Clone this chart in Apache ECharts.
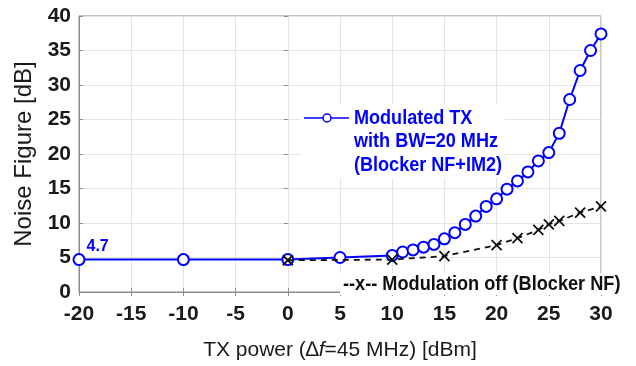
<!DOCTYPE html>
<html lang="en">
<head>
	<meta charset="UTF-8">
	<title>Noise Figure vs TX power</title>
	<style>
		html, body { margin: 0; padding: 0; background: #fff; }
	</style>
</head>
<body>
	<div id="main" style="width: 636px;height: 366px"></div>
	<script src="https://cdn.jsdelivr.net/npm/echarts@6/dist/echarts.min.js"></script>
	<script>
		// TX power [dBm] for the modulated TX curve
		var txPower = [-20, -10, 0, 5, 10, 11, 12, 13, 14, 15, 16, 17, 18, 19, 20,
			21, 22, 23, 24, 25, 26, 27, 28, 29, 30];
		// Noise figure [dB], modulated TX (Blocker NF+IM2)
		var nfModulated = [4.7, 4.7, 4.7, 5.0, 5.3, 5.8, 6.1, 6.5, 6.9, 7.7, 8.6, 9.8, 11.0, 12.4, 13.5,
			14.9, 16.1, 17.4, 19.0, 20.2, 23.0, 27.9, 32.1, 35.0, 37.4];

		// modulation off (Blocker NF)
		var txPowerOff = [0, 10, 15, 20, 22, 24, 25, 26, 28, 30];
		var nfOff = [4.6, 4.7, 5.2, 6.8, 7.8, 9.0, 9.8, 10.3, 11.5, 12.4];

		var xTicks = [-20, 30, 5];
		var yTicks = [0, 40, 5];

		function pairs(xs, ys) {
			return xs.map(function (x, i) { return [x, ys[i]]; });
		}

		var sans = '"Liberation Sans", Arial, sans-serif';

		var blueData = pairs(txPower, nfModulated);
		//第一个点显示数值
		blueData[0] = {
			value: blueData[0],
			label: {
				show: true,
				formatter: '4.7',
				position: [14, -6],
				align: 'left',
				verticalAlign: 'middle',
				color: '#0000ff',
				fontFamily: sans,
				fontWeight: 'bold',
				fontSize: 16
			}
		};

		var myChart = echarts.init(document.getElementById('main'));
		var option = {
			animation: false,
			grid: {
				left: 79,
				right: 35,
				top: 16,
				bottom: 70,
				show: true,
				borderColor: '#8c8c8c',
				borderWidth: 1
			},
			xAxis: [{
				type: 'value',
				min: xTicks[0],
				max: xTicks[1],
				interval: xTicks[2],
				name: 'TX power ({d|∆}{f|f}=45 MHz) [dBm]',
				nameLocation: 'middle',
				nameGap: 48,
				nameTextStyle: {
					fontFamily: sans,
					fontSize: 21,
					color: '#1a1a1a',
					rich: {
						d: { fontFamily: sans, fontSize: 21, color: '#1a1a1a' },
						f: { fontFamily: sans, fontSize: 21, fontStyle: 'italic', color: '#1a1a1a' }
					}
				},
				axisLine: { show: true, onZero: false, lineStyle: { color: '#8c8c8c' } },
				axisTick: { show: true, inside: true, length: 4, lineStyle: { color: '#8c8c8c' } },
				axisLabel: {
					margin: 12,
					color: '#1a1a1a',
					fontFamily: sans,
					fontWeight: 'bold',
					fontSize: 21
				},
				splitLine: { show: true, lineStyle: { color: '#e3e3e3' } }
			}, {
				type: 'value',
				position: 'top',
				min: xTicks[0],
				max: xTicks[1],
				interval: xTicks[2],
				axisLine: { show: false },
				axisTick: { show: true, inside: true, length: 4, lineStyle: { color: '#8c8c8c' } },
				axisLabel: { show: false },
				splitLine: { show: false }
			}],
			yAxis: [{
				type: 'value',
				min: yTicks[0],
				max: yTicks[1],
				interval: yTicks[2],
				name: 'Noise Figure [dB]',
				nameLocation: 'middle',
				nameGap: 40,
				nameTextStyle: {
					fontFamily: sans,
					fontSize: 24,
					color: '#1a1a1a'
				},
				axisLine: { show: true, onZero: false, lineStyle: { color: '#8c8c8c' } },
				axisTick: { show: true, inside: true, length: 4, lineStyle: { color: '#8c8c8c' } },
				axisLabel: {
					margin: 8,
					color: '#1a1a1a',
					fontFamily: sans,
					fontWeight: 'bold',
					fontSize: 21
				},
				splitLine: { show: true, lineStyle: { color: '#e3e3e3' } }
			}, {
				type: 'value',
				position: 'right',
				min: yTicks[0],
				max: yTicks[1],
				interval: yTicks[2],
				axisLine: { show: false },
				axisTick: { show: true, inside: true, length: 4, lineStyle: { color: '#8c8c8c' } },
				axisLabel: { show: false },
				splitLine: { show: false }
			}],
			// 图例用图形元素画（位置和原图一致）
			graphic: [
				{
					type: 'rect',
					shape: { x: 301, y: 104, width: 204, height: 74 },
					style: { fill: '#fff' },
					z: 50
				},
				{
					type: 'line',
					shape: { x1: 304, y1: 118, x2: 349, y2: 118 },
					style: { stroke: '#0000ff', lineWidth: 1.5 },
					z: 51
				},
				{
					type: 'circle',
					shape: { cx: 327, cy: 118, r: 4 },
					style: { fill: '#fff', stroke: '#0000ff', lineWidth: 1.5 },
					z: 52
				},
				{
					type: 'text',
					x: 354,
					y: 106,
					scaleX: 0.86,
					style: {
						text: 'Modulated TX\nwith BW=20 MHz\n(Blocker NF+IM2)',
						font: 'bold 21px ' + sans,
						fill: '#0000ff',
						lineHeight: 23.5
					},
					z: 52
				},
				{
					type: 'rect',
					shape: { x: 340, y: 273, width: 296, height: 22 },
					style: { fill: '#fff' },
					z: 50
				},
				{
					type: 'text',
					x: 343,
					y: 274,
					scaleX: 0.865,
					style: {
						text: '--x-- Modulation off (Blocker NF)',
						font: 'bold 21px ' + sans,
						fill: '#111'
					},
					z: 52
				}
			],
			series: [
				{
					name: 'Modulated TX with BW=20 MHz (Blocker NF+IM2)',
					type: 'line',
					data: blueData,
					color: '#0000ff',
					symbol: 'emptyCircle',
					symbolSize: 11,
					lineStyle: { width: 2, color: '#0000ff' },
					itemStyle: { color: '#0000ff', borderWidth: 2 },
					z: 3
				},
				{
					name: 'Modulation off (Blocker NF)',
					type: 'line',
					data: pairs(txPowerOff, nfOff),
					color: '#111',
					symbol: 'path://M0,0L10,10M0,10L10,0',
					symbolSize: 10,
					lineStyle: { width: 1.8, color: '#111', type: [6, 5] },
					itemStyle: { color: '#111', borderColor: '#111', borderWidth: 1.8 },
					z: 4
				}
			]
		};

		myChart.setOption(option);
	</script>
</body>
</html>
